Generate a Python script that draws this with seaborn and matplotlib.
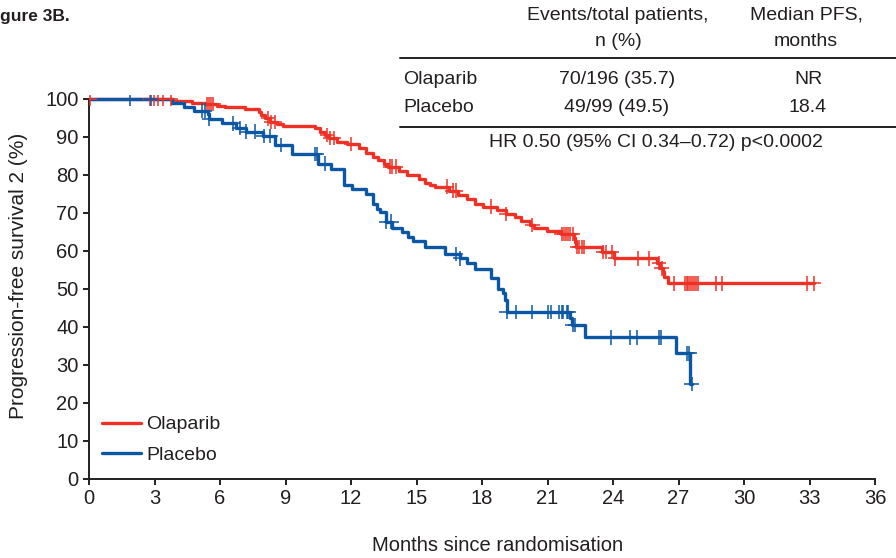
import numpy as np
import pandas as pd
import matplotlib
matplotlib.use('Agg')
import matplotlib.pyplot as plt
import seaborn as sns

# Kaplan-Meier step curves (months, % progression-free)
olap_t = [0, 3.86, 4.7, 5.3, 5.85, 6.23, 7.15, 7.8, 7.9, 8.06, 8.3, 8.6, 8.9,
          10.35, 10.6, 10.8, 11.0, 11.35, 11.8, 12.35, 12.7, 13.0, 13.25, 13.5,
          13.7, 14.2, 14.55, 15.1, 15.4, 15.6, 15.85, 16.5, 16.9, 17.3, 17.7,
          18.06, 18.7, 19.1, 19.5, 19.8, 20.2, 20.4, 20.97, 21.6, 22.2, 22.26,
          22.3, 23.5, 24.05, 26.03, 26.15, 26.28, 26.34, 26.54]
olap_s = [100, 99.5, 99.0, 98.7, 98.2, 97.8, 97.4, 96.7, 95.8, 94.9, 94.0, 93.4, 93.0,
          92.3, 91.4, 90.5, 89.7, 88.8, 88.2, 87.0, 85.7, 84.7, 83.9, 83.0,
          82.2, 81.1, 80.1, 79.0, 78.0, 77.4, 76.9, 75.9, 74.7, 73.6, 72.4,
          71.7, 70.8, 69.7, 68.9, 67.9, 66.8, 66.0, 65.3, 64.5, 63.3, 62.3,
          61.0, 59.7, 58.1, 56.8, 55.4, 54.6, 53.2, 51.5]
olap_cens = [0.05, 2.8, 2.98, 3.17, 3.4, 3.76, 5.4, 5.5, 5.6, 5.7, 8.2, 8.35, 8.5,
             10.9, 11.05, 11.2, 12.0, 13.8, 13.9, 14.05, 16.4, 16.65, 16.8, 18.4,
             19.1, 20.3, 21.65, 21.75, 21.85, 21.95, 22.05, 22.15, 22.35, 22.46,
             22.57, 22.67, 23.56, 23.68, 23.94, 24.1, 25.16, 25.67, 26.1, 26.23,
             26.8, 27.3, 27.38, 27.45, 27.53, 27.6, 27.7, 27.8, 27.9, 28.7, 29.0,
             32.9, 33.2]

plac_t = [0, 3.8, 4.35, 4.8, 5.44, 5.5, 6.1, 6.75, 7.2, 7.95, 8.5, 9.3, 10.5, 11.1,
          11.7, 12.05, 12.7, 13.0, 13.2, 13.33, 13.6, 13.87, 14.35, 14.6, 14.83,
          15.4, 16.3, 17.0, 17.3, 17.7, 18.4, 18.75, 18.98, 19.05, 19.13, 22.03,
          22.1, 22.7, 26.9, 27.53]
plac_s = [100, 99.0, 97.8, 96.9, 96.0, 94.7, 93.6, 92.4, 91.4, 90.3, 87.9, 85.5, 83.0, 81.5,
          77.5, 76.4, 75.0, 72.5, 71.0, 70.2, 67.7, 66.1, 64.9, 63.6, 62.5,
          61.0, 59.2, 58.1, 56.9, 55.3, 53.0, 50.0, 48.9, 47.1, 44.0, 42.5,
          40.5, 37.3, 33.1, 25.0]
plac_cens = [1.9, 2.83, 5.16, 5.31, 5.5, 6.6, 6.9, 7.2, 7.6, 8.0, 8.3, 8.8, 10.35,
             10.45, 10.8, 13.6, 13.85, 16.8, 17.0, 19.13, 19.56, 20.3, 21.04, 21.15,
             21.54, 21.65, 21.72, 21.88, 21.96, 22.15, 22.26, 23.9, 24.8, 25.1, 26.1,
             26.2, 27.4, 27.5, 27.6]

arms = ['Olaparib', 'Placebo']
colors = {'Olaparib': '#EE3124', 'Placebo': '#0B57A4'}
x_ticks = list(range(0, 37, 3))
y_ticks = list(range(0, 101, 10))

table_head1 = ['Events/total patients,', 'Median PFS,']
table_head2 = ['n (%)', 'months']
table_events = ['70/196 (35.7)', '49/99 (49.5)']
table_median = ['NR', '18.4']
hr_text = 'HR 0.50 (95% CI 0.34\u20130.72) p<0.0002'


def build(arm, t, s, cens):
    t = np.asarray(t, float)
    s = np.asarray(s, float)
    cens = np.asarray(cens, float)
    end = max(t[-1], cens.max())
    curve = pd.DataFrame({'month': np.append(t, end), 'pfs': np.append(s, s[-1]), 'arm': arm})
    idx = np.searchsorted(t, cens, side='right') - 1
    marks = pd.DataFrame({'month': cens, 'pfs': s[idx], 'arm': arm})
    return curve, marks


c1, m1 = build('Olaparib', olap_t, olap_s, olap_cens)
c2, m2 = build('Placebo', plac_t, plac_s, plac_cens)
curves = pd.concat([c1, c2], ignore_index=True)
marks = pd.concat([m1, m2], ignore_index=True)

sns.set_style('ticks')
plt.rcParams['font.family'] = ['Liberation Sans', 'DejaVu Sans']
txt = '#231F20'
plt.rcParams['text.color'] = txt

W, H = 896, 558
fig = plt.figure(figsize=(W / 100, H / 100), dpi=100)
ax = fig.add_axes([89 / W, 79 / H, 786 / W, 101 * 3.8 / H])

sns.lineplot(data=curves, x='month', y='pfs', hue='arm', hue_order=arms, palette=colors,
             drawstyle='steps-post', estimator=None, sort=False, linewidth=2.4, ax=ax)
sns.scatterplot(data=marks, x='month', y='pfs', hue='arm', hue_order=arms, palette=colors,
                marker='+', s=110, linewidth=1.1, legend=False, ax=ax, zorder=3)

ax.set_xlim(0, 36)
ax.set_ylim(0, 101)
ax.set_xticks(x_ticks)
ax.set_yticks(y_ticks)
ax.spines['left'].set_bounds(0, 100)
ax.spines['bottom'].set_bounds(0, 36)
sns.despine(ax=ax)
for sp in ['left', 'bottom']:
    ax.spines[sp].set_linewidth(1.4)
    ax.spines[sp].set_color(txt)
ax.tick_params(axis='both', length=4.5, width=1.4, color=txt, labelsize=14.5, labelcolor=txt, pad=3)
ax.set_xlabel('Months since randomisation', fontsize=14.5, color=txt)
ax.xaxis.set_label_coords(0.52, -0.149)
ax.set_ylabel('Progression-free survival 2 (%)', fontsize=15, color=txt)
ax.yaxis.set_label_coords(-0.077, 0.53)

leg = ax.legend(loc='lower left', bbox_to_anchor=(0.017, 0.04), frameon=False, fontsize=14,
                handlelength=2.0, handletextpad=0.25, labelspacing=0.65, borderpad=0,
                borderaxespad=0)
for h in leg.legend_handles:
    h.set_linewidth(2.4)


def fx(px):
    return px / W


def fy(py):
    return 1 - py / H


fig.text(fx(0), fy(17), 'gure 3B.', fontsize=12.5, fontweight='bold', ha='left', va='center')
for i, cx in enumerate([618, 806]):
    fig.text(fx(cx), fy(15), table_head1[i], fontsize=14, ha='center', va='center')
    fig.text(fx(cx), fy(42), table_head2[i], fontsize=14, ha='center', va='center')
for i, arm in enumerate(arms):
    yy = fy(80 + 27 * i)
    fig.text(fx(403), yy, arm, fontsize=14, ha='left', va='center')
    fig.text(fx(617), yy, table_events[i], fontsize=14, ha='center', va='center')
    fig.text(fx(808), yy, table_median[i], fontsize=14, ha='center', va='center')
fig.text(fx(656), fy(143), hr_text, fontsize=14, ha='center', va='center')
for ry in [58, 127]:
    fig.add_artist(plt.Line2D([fx(400), fx(896)], [fy(ry), fy(ry)], color=txt, linewidth=1.4))

fig.savefig('out.png', dpi=100)
